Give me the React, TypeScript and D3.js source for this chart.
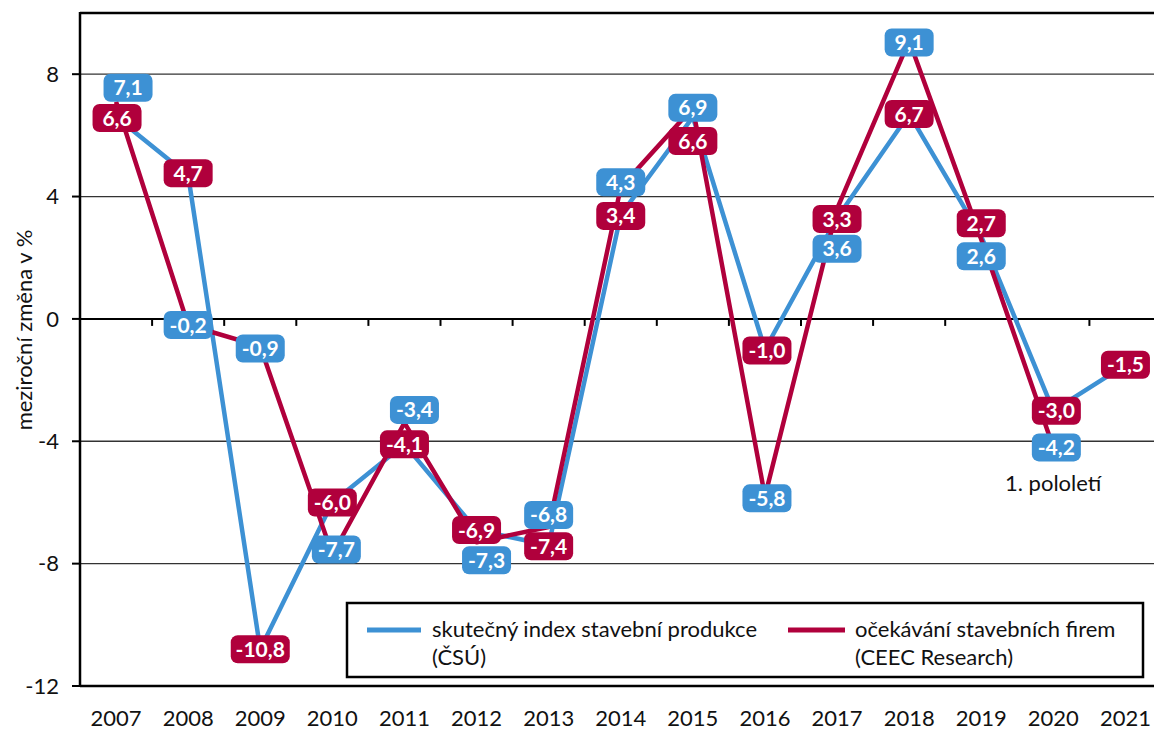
import React from 'react';
import * as d3 from 'd3';

// Categories
const years = ['2007','2008','2009','2010','2011','2012','2013','2014','2015','2016','2017','2018','2019','2020','2021'];
// Values shown in blue label boxes (drawn by the red line in the original)
const actualIndex = [7.1, -0.2, -0.9, -7.7, -3.4, -7.3, -6.8, 4.3, 6.9, -5.8, 3.6, 9.1, 2.6, -4.2];
// Values shown in red label boxes (drawn by the blue line in the original)
const firmExpectations = [6.6, 4.7, -10.8, -6.0, -4.1, -6.9, -7.4, 3.4, 6.6, -1.0, 3.3, 6.7, 2.7, -3.0, -1.5];
const yTicks = [8, 4, 0, -4, -8, -12];
const legendLabels = [
  ['skutečný index stavební produkce', '(ČSÚ)'],
  ['očekávání stavebních firem', '(CEEC Research)'],
];
const noteText = '1. pololetí';
const yAxisTitle = 'meziroční změna v %';

// Label nudges (layout only, px) to avoid overlaps as in the reference
const blueLabelDy = [-14, 0, 2, -5, -13, 18, -12, -5, 0, 2, 40, 2, 17, 0];
const blueLabelDx = [12, 0, 0, 4, 10, 10, 0, 0, 0, 2, 0, 0, 0, 3];
const redLabelDy = [1, -2, 0, 0, 0, 0, 1, 1, 24, 1, 1, 0, -13, 0, 0];
const redLabelDx = [1, 0, 0, 0, 0, 0, 0, 0, 0, 2, 0, 0, 0, 3, 0];

const BLUE = '#3d91d4';
const RED = '#b0003c';
const FONT = 'Lato, "Noto Sans", sans-serif';
const FS = 22;

const W = 1154, H = 733;
const left = 80, top = 13, bottom = 686;
const band = 72.1;

export default function App() {
  const x = d3.scaleBand<string>().domain(years).range([left, left + band * years.length]).padding(0);
  const cx = (i: number) => (x(years[i]) as number) + x.bandwidth() / 2;
  const y = d3.scaleLinear().domain([-12, 10]).range([bottom, top]);

  const line = d3.line<number>().x((_, i) => cx(i)).y(d => y(d));

  const labelBox = (v: number, i: number, color: string, dx: number, dy: number, key: string) => {
    const txt = v.toFixed(1).replace('.', ',');
    const w = txt.length >= 5 ? 59 : 49;
    const h = 28;
    const px = cx(i) + dx;
    const py = y(v) + dy;
    return (
      <g key={key}>
        <rect x={px - w / 2} y={py - h / 2} width={w} height={h} rx={7} ry={7} fill={color} />
        <text x={px} y={py} dy="0.36em" textAnchor="middle" fill="#fff" fontWeight="bold" fontSize={21} fontFamily={FONT}>{txt}</text>
      </g>
    );
  };

  const xRight = W;

  return (
    <svg width={W} height={H} style={{ position: 'absolute', left: 0, top: 0, background: '#fff' }}>
      <rect x={0} y={0} width={W} height={H} fill="#fff" />
      {/* gridlines */}
      {yTicks.filter(t => t !== 0 && t !== -12).map(t => (
        <line key={'g' + t} x1={left} x2={xRight} y1={y(t)} y2={y(t)} stroke="#333" strokeWidth={1.3} />
      ))}
      {/* top border */}
      <line x1={left} x2={xRight} y1={top} y2={top} stroke="#000" strokeWidth={2.5} />
      {/* zero line */}
      <line x1={left} x2={xRight} y1={y(0)} y2={y(0)} stroke="#000" strokeWidth={2} />
      {/* x ticks on zero line */}
      {years.slice(1).map((yr) => (
        <line key={'xt' + yr} x1={x(yr) as number} x2={x(yr) as number} y1={y(0)} y2={y(0) + 7} stroke="#000" strokeWidth={2} />
      ))}
      {/* left axis */}
      <line x1={left} x2={left} y1={top - 1} y2={bottom + 1} stroke="#000" strokeWidth={2.5} />
      {/* bottom axis */}
      <line x1={left} x2={xRight} y1={bottom} y2={bottom} stroke="#000" strokeWidth={2.5} />
      {/* y ticks */}
      {yTicks.map(t => (
        <g key={'yt' + t}>
          <line x1={left - 8} x2={left} y1={y(t)} y2={y(t)} stroke="#000" strokeWidth={2} />
          <text x={59} y={y(t)} dy="0.35em" textAnchor="end" fontSize={FS} fontFamily={FONT} fill="#111">{t}</text>
        </g>
      ))}
      {/* x labels */}
      {years.map((yr, i) => (
        <text key={'xl' + yr} x={cx(i)} y={726} textAnchor="middle" fontSize={FS} fontFamily={FONT} fill="#111">{yr}</text>
      ))}
      {/* y title */}
      <text transform={`translate(32,330) rotate(-90)`} textAnchor="middle" fontSize={FS} fontFamily={FONT} fill="#111">{yAxisTitle}</text>

      {/* lines */}
      <path d={line(firmExpectations) || ''} fill="none" stroke={BLUE} strokeWidth={4.5} strokeLinejoin="round" />
      <path d={line(actualIndex) || ''} fill="none" stroke={RED} strokeWidth={4.5} strokeLinejoin="round" />

      {/* legend */}
      <rect x={347} y={603} width={796} height={74} fill="#fff" stroke="#000" strokeWidth={2.5} />
      <line x1={367} x2={421} y1={630} y2={630} stroke={BLUE} strokeWidth={5} />
      <text x={432} y={637} fontSize={FS} fontFamily={FONT} fill="#111">{legendLabels[0][0]}</text>
      <text x={432} y={665} fontSize={FS} fontFamily={FONT} fill="#111">{legendLabels[0][1]}</text>
      <line x1={788} x2={845} y1={630} y2={630} stroke={RED} strokeWidth={5} />
      <text x={855} y={637} fontSize={FS} fontFamily={FONT} fill="#111">{legendLabels[1][0]}</text>
      <text x={855} y={665} fontSize={FS} fontFamily={FONT} fill="#111">{legendLabels[1][1]}</text>

      {/* note */}
      <text x={1005} y={491} fontSize={FS} fontFamily={FONT} fill="#111">{noteText}</text>

      {/* labels */}
      {actualIndex.map((v, i) => labelBox(v, i, BLUE, blueLabelDx[i], blueLabelDy[i], 'b' + i))}
      {firmExpectations.map((v, i) => labelBox(v, i, RED, redLabelDx[i], redLabelDy[i], 'r' + i))}
    </svg>
  );
}
